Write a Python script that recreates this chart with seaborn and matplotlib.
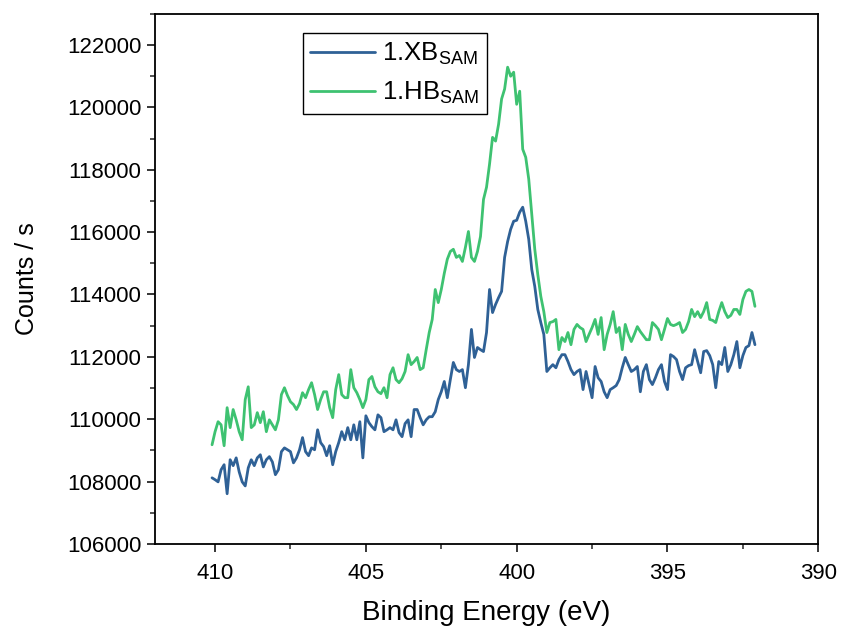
import numpy as np
import pandas as pd
import seaborn as sns
import matplotlib.pyplot as plt
from matplotlib.ticker import MultipleLocator

# N 1s spectra, counts per second (0.1 eV steps from 410.1 eV down)
energy_start = 410.1
energy_step = 0.1

xb_sam = [
    108120, 108060, 107990, 108380, 108540, 107610, 108700, 108510, 108760, 108310,
    107990, 107860, 108440, 108700, 108510, 108760, 108860, 108470, 108700, 108800,
    108630, 108220, 108380, 108960, 109080, 109020, 108960, 108600, 108760, 109020,
    109410, 108960, 108830, 109080, 109020, 109660, 109250, 109120, 108830, 109150,
    108540, 108960, 109250, 109600, 109340, 109730, 109340, 109820, 109340, 109920,
    108760, 110110, 109890, 109760, 109660, 110140, 110050, 109600, 109660, 109730,
    109660, 109980, 109570, 109440, 109860, 109980, 109440, 110310, 110310, 110050,
    109820, 109980, 110080, 110080, 110240, 110630, 110880, 111210, 110690, 111270,
    111820, 111590, 111530, 111590, 111010, 111750, 112880, 111980, 112300, 112230,
    112170, 112780, 114160, 113420, 113680, 113900, 114100, 115190, 115700, 116090,
    116350, 116380, 116640, 116800, 116350, 115770, 114800, 114260, 113520, 113100,
    112720, 111530, 111650, 111750, 111650, 111910, 112070, 112070, 111850, 111590,
    111430, 111530, 111590, 110950, 111530, 111110, 110690, 111690, 111330, 111210,
    110880, 110690, 110950, 111010, 111080, 111270, 111650, 111980, 111750, 111530,
    111590, 111690, 110880, 111530, 111750, 111270, 111110, 111330, 111590, 111750,
    111210, 110950, 112070, 112010, 111910, 111530, 111270, 111650, 111720, 111750,
    112230, 111850, 111490, 112170, 112200, 112040, 111750, 111010, 111850, 111750,
    112300, 111530, 111750, 112070, 112490, 111650, 112040, 112300, 112360, 112780,
    112390,
]

hb_sam = [
    109180, 109600, 109920, 109820, 109150, 110370, 109730, 110310, 109980, 109600,
    109340, 110630, 111040, 109730, 109820, 110210, 109890, 110240, 109600, 109980,
    109820, 109660, 109980, 110790, 111010, 110760, 110560, 110470, 110310, 110500,
    110850, 110690, 110950, 111170, 110790, 110310, 110630, 110880, 110880, 110370,
    110050, 110950, 111430, 110790, 110690, 110690, 111590, 111010, 110850, 110630,
    110370, 110630, 111270, 111370, 111040, 110880, 110820, 111010, 110690, 111430,
    111650, 111270, 111170, 111300, 111530, 112070, 111750, 111850, 111980, 111590,
    111650, 112230, 112780, 113200, 114160, 113740, 114160, 114680, 115130, 115380,
    115450, 115190, 115250, 115060, 115510, 116020, 115190, 115060, 115380, 115860,
    117050, 117440, 118180, 119040, 118920, 119460, 120270, 120590, 121290, 121000,
    121130, 120100, 120520, 118660, 118400, 117700, 116570, 115450, 114640, 113940,
    113450, 112780, 113100, 113130, 113200, 112230, 112620, 112490, 112780, 112390,
    112880, 113040, 112940, 112880, 112490, 112720, 112940, 113200, 112720, 113260,
    112230, 112720, 113040, 113450, 112780, 112940, 112230, 113040, 112720, 112490,
    112720, 112970, 112810, 112680, 112550, 112550, 113100, 113000, 112880, 112550,
    112880, 113230, 113040, 113000, 113040, 113100, 112780, 112880, 113130, 113520,
    113290, 113450, 113260, 113450, 113740, 113200, 113170, 113100, 113450, 113740,
    113450, 113260, 113330, 113520, 113520, 113360, 113840, 114100, 114160, 114100,
    113620,
]

binding_energy = np.round(energy_start - energy_step * np.arange(len(xb_sam)), 1)

df = pd.DataFrame({'be': binding_energy, 'xb': xb_sam, 'hb': hb_sam})

sns.set_style('ticks')
plt.rcParams['font.family'] = ['Liberation Sans', 'DejaVu Sans']
plt.rcParams['mathtext.default'] = 'regular'
plt.rcParams['text.color'] = 'black'
plt.rcParams['axes.labelcolor'] = 'black'

fig = plt.figure(figsize=(8.41, 6.31), dpi=100)
ax = fig.add_axes([0.184, 0.138, 0.789, 0.840])

sns.lineplot(data=df, x='be', y='xb', ax=ax, color='#2f6196', lw=2.0,
             label='1.XB$_{SAM}$')
sns.lineplot(data=df, x='be', y='hb', ax=ax, color='#3ec271', lw=2.0,
             label='1.HB$_{SAM}$')

ax.set_xlim(412, 390)
ax.set_ylim(106000, 123000)
ax.xaxis.set_major_locator(MultipleLocator(5))
ax.xaxis.set_minor_locator(MultipleLocator(2.5))
ax.yaxis.set_major_locator(MultipleLocator(2000))
ax.yaxis.set_minor_locator(MultipleLocator(1000))

ax.tick_params(which='major', direction='out', length=6, width=1.1,
               labelsize=16, colors='black')
ax.tick_params(axis='x', which='major', pad=8)
ax.tick_params(which='minor', direction='out', length=3.5, width=1.1)
for s in ax.spines.values():
    s.set_linewidth(1.3)
    s.set_color('black')

ax.set_xlabel('Binding Energy (eV)', fontsize=20, labelpad=11)
ax.set_ylabel('Counts / s', fontsize=18, labelpad=20)

leg = ax.legend(loc='upper left', bbox_to_anchor=(0.223, 0.964), borderaxespad=0,
                fontsize=18.5, fancybox=False, edgecolor='black', framealpha=1,
                handlelength=2.5, handletextpad=0.3, labelspacing=0.5,
                borderpad=0.3)
leg.get_frame().set_linewidth(1.0)

fig.savefig('out.png', dpi=100)
